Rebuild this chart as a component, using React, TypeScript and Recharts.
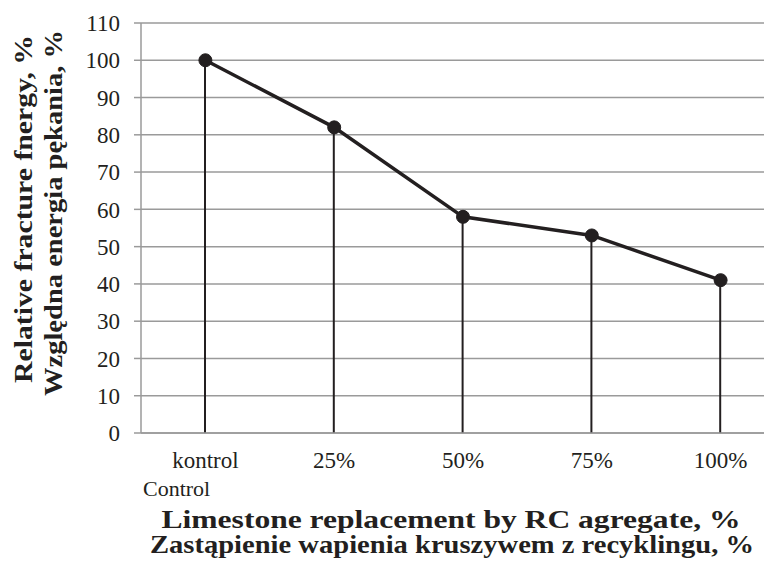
import { ComposedChart, Line, Bar, XAxis, YAxis, CartesianGrid, Label } from 'recharts';

const categories = ['kontrol', '25%', '50%', '75%', '100%'];
const fractureEnergy = [100, 82, 58, 53, 41];
const yTicks = [0, 10, 20, 30, 40, 50, 60, 70, 80, 90, 100, 110];

const data = categories.map((name, i) => ({ name, value: fractureEnergy[i] }));

const FONT = '"Liberation Serif", "Times New Roman", serif';
const INK = '#231f20';
const GRID = '#9a9a9a';

const YTitle = () => {
  return (
    <g fontFamily={FONT} fontWeight="bold" fontSize={25} fill={INK}>
      <text x={32} y={209} transform="rotate(-90, 32, 209)" textAnchor="middle" textLength={348} lengthAdjust="spacingAndGlyphs">
        Relative fracture fnergy, %
      </text>
      <text x={62} y={213} transform="rotate(-90, 62, 213)" textAnchor="middle" textLength={366} lengthAdjust="spacingAndGlyphs">
        Względna energia pękania, %
      </text>
    </g>
  );
};

const XTitle = () => {
  return (
    <g fontFamily={FONT} fill={INK}>
      <text x={143} y={496} fontSize={22}>Control</text>
      <text x={451} y={528} textAnchor="middle" fontSize={25} fontWeight="bold" textLength={579} lengthAdjust="spacingAndGlyphs">
        Limestone replacement by RC agregate, %
      </text>
      <text x={452} y={553} textAnchor="middle" fontSize={25} fontWeight="bold" textLength={604} lengthAdjust="spacingAndGlyphs">
        Zastąpienie wapienia kruszywem z recyklingu, %
      </text>
    </g>
  );
};

export default function App() {
  return (
    <div style={{ margin: -8, width: 772, height: 566, overflow: 'hidden', background: '#fff' }}>
      <ComposedChart
        width={800}
        height={566}
        data={data}
        margin={{ top: 23, right: 15, bottom: 0, left: 0 }}
      >
        <CartesianGrid vertical={false} stroke={GRID} strokeWidth={1.5} />
        <XAxis
          dataKey="name"
          height={133}
          axisLine={{ stroke: GRID, strokeWidth: 1.5 }}
          tickLine={false}
          tickSize={0}
          tickMargin={19}
          tick={{ fill: INK, fontSize: 23, fontFamily: FONT }}
        >
          <Label content={<XTitle />} />
        </XAxis>
        <YAxis
          width={141}
          domain={[0, 110]}
          ticks={yTicks}
          interval={0}
          axisLine={{ stroke: GRID, strokeWidth: 1.5 }}
          tickLine={{ stroke: GRID, strokeWidth: 1.5 }}
          tickSize={7}
          tickMargin={14}
          tick={{ fill: INK, fontSize: 23, fontFamily: FONT }}
        >
          <Label content={<YTitle />} />
        </YAxis>
        <Bar dataKey="value" barSize={2} fill={INK} isAnimationActive={false} />
        <Line
          dataKey="value"
          type="linear"
          stroke={INK}
          strokeWidth={3.5}
          dot={{ r: 6.5, fill: INK, stroke: INK, strokeWidth: 1 }}
          activeDot={false}
          isAnimationActive={false}
        />
      </ComposedChart>
    </div>
  );
}
